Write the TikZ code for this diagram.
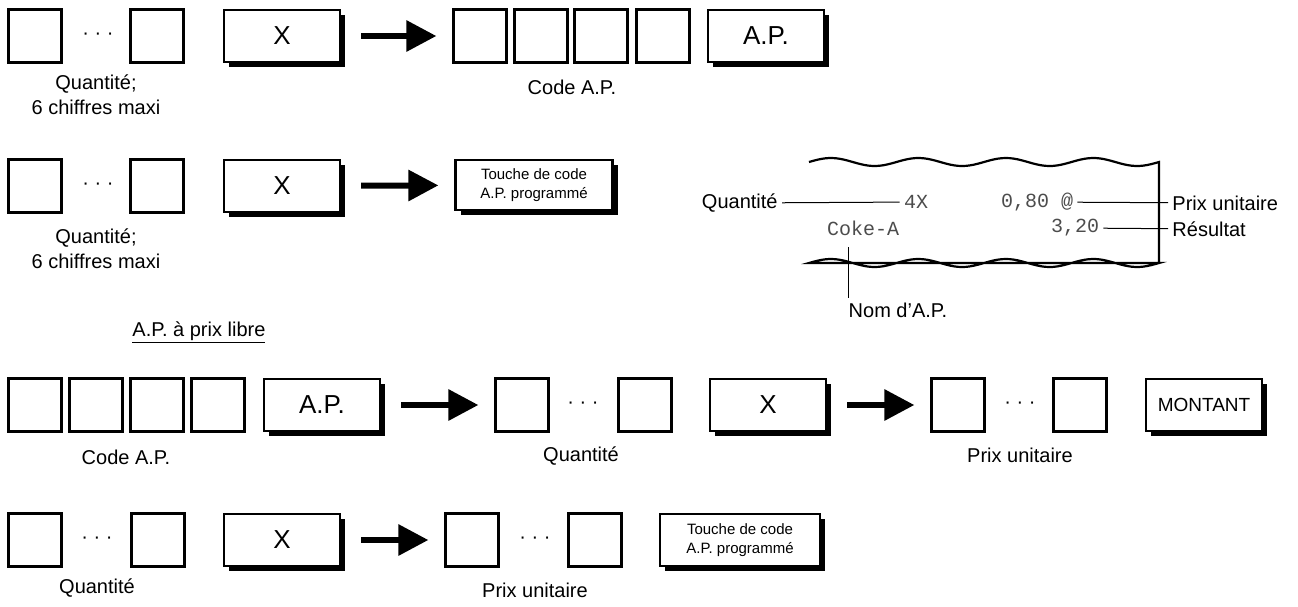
\documentclass[tikz,border=0pt]{standalone}
\usepackage{fontspec}
\setmainfont{Liberation Sans}
\newfontfamily\receiptfont{Liberation Mono}
\usetikzlibrary{arrows.meta,shadows}
\tikzset{
    every picture/.style={
        line width=2.2pt
    },
    % number keys
    num key/.style={
        draw, minimum width=53pt, minimum height=53pt, inner sep=0pt
    },
    % function keys with a shadow
    fn key/.style={
        draw, fill=white, minimum width=116pt, minimum height=52pt, inner sep=0pt,
        font=\fontsize{26}{30}\selectfont,
        drop shadow={shadow xshift=5pt, shadow yshift=-5pt, fill=black, opacity=1}
    },
    small key/.style={
        fn key, align=center, font=\fontsize{15}{19}\selectfont
    },
    key label/.style={
        font=\fontsize{20}{25}\selectfont, align=center
    },
    step arrow/.style={
        line width=6pt, -{Triangle[length=30pt 0 0, width=30pt 0 0]},
        shorten <=20pt, shorten >=16pt
    },
    receipt text/.style={
        font=\receiptfont\fontsize{20}{24}\selectfont, text=black!70
    },
    pointer/.style={line width=1pt}
}
\newcommand{\keydots}[1]{\node[font=\fontsize{20}{20}\selectfont] at #1 {· · ·};}

\begin{document}
\begin{tikzpicture}[x=1pt,y=-1pt]

% Set the canvas size
\path[use as bounding box] (0,0) rectangle (1298,606);

% Row 1
\node[num key] (q1a) at (35,36) {};
\keydots{(98,36)}
\node[num key] (q1b) at (157,36) {};
\node[fn key] (x1) at (282,36) {X};
\node[num key] (c1a) at (480,36) {};
\node[num key] (c1b) at (541,36) {};
\node[num key] (c1c) at (601,36) {};
\node[num key] (c1d) at (663,36) {};
\node[fn key] (ap1) at (766,36) {A.P.};
\draw[step arrow] (x1) -- (c1a);
\node[key label] (lq1) at (96,95) {Quantité;\\6 chiffres maxi};
\node[key label] (lc1) at (572,87) {Code A.P.};

% Row 2
\node[num key] (q2a) at (35,186) {};
\keydots{(98,186)}
\node[num key] (q2b) at (157,186) {};
\node[fn key] (x2) at (282,186) {X};
\node[small key, minimum width=157pt, minimum height=50pt] (pr2) at (534,185) {Touche de code\\A.P. programmé};
\draw[step arrow] (x2) -- (pr2);
\node[key label] (lq2) at (96,249) {Quantité;\\6 chiffres maxi};

% Receipt
\draw (809,162) plot[domain=0:350,samples=90] ({809+\x},{162-4*sin(\x*4.114)})
      -- (1159,263) plot[domain=350:0,samples=90] ({809+\x},{263-4*sin(\x*4.114)}) -- cycle;
\node[receipt text] (qty) at (916,202) {4X};
\node[receipt text] (unit) at (1037,202) {0,80 @};
\node[receipt text] (item) at (863,228) {Coke-A};
\node[receipt text] (total) at (1075,228) {3,20};
\node[key label, anchor=east] (lqty) at (782,203) {Quantité};
\node[key label, anchor=west] (lunit) at (1168,203) {Prix unitaire};
\node[key label, anchor=west] (ltotal) at (1168,229) {Résultat};
\node[key label] (litem) at (898,310) {Nom d'A.P.};
\coordinate (itemtop) at (848,247);
\draw[pointer] (lqty) -- (qty);
\draw[pointer] (unit) -- (lunit);
\draw[pointer] (total) -- (ltotal);
\draw[pointer] (itemtop) -- (litem.north -| itemtop);

% A.P. a prix libre
\node[key label, anchor=west] (head) at (128,332) {\underline{A.P. à prix libre}};

% Row 3
\node[num key] (c3a) at (35,405) {};
\node[num key] (c3b) at (96,405) {};
\node[num key] (c3c) at (157,405) {};
\node[num key] (c3d) at (218,405) {};
\node[fn key] (ap3) at (322,405) {A.P.};
\node[num key] (q3a) at (522,405) {};
\keydots{(583,405)}
\node[num key] (q3b) at (645,405) {};
\node[fn key] (x3) at (768,405) {X};
\node[num key] (p3a) at (958,405) {};
\keydots{(1020,405)}
\node[num key] (p3b) at (1080,405) {};
\node[fn key, font=\fontsize{19}{23}\selectfont] (amt3) at (1204,405) {MONTANT};
\draw[step arrow] (ap3) -- (q3a);
\draw[step arrow] (x3) -- (p3a);
\node[key label] (lc3) at (126,457) {Code A.P.};
\node[key label] (lq3) at (581,456) {Quantité};
\node[key label] (lp3) at (1020,455) {Prix unitaire};

% Row 4
\node[num key] (q4a) at (35,540) {};
\keydots{(97,540)}
\node[num key] (q4b) at (158,540) {};
\node[fn key] (x4) at (282,540) {X};
\node[num key] (p4a) at (472,540) {};
\keydots{(535,540)}
\node[num key] (p4b) at (595,540) {};
\node[small key, minimum width=160pt, minimum height=52pt] (pr4) at (740,540) {Touche de code\\A.P. programmé};
\draw[step arrow] (x4) -- (p4a);
\node[key label] (lq4) at (97,588) {Quantité};
\node[key label] (lp4) at (535,590) {Prix unitaire};

\end{tikzpicture}
\end{document}
